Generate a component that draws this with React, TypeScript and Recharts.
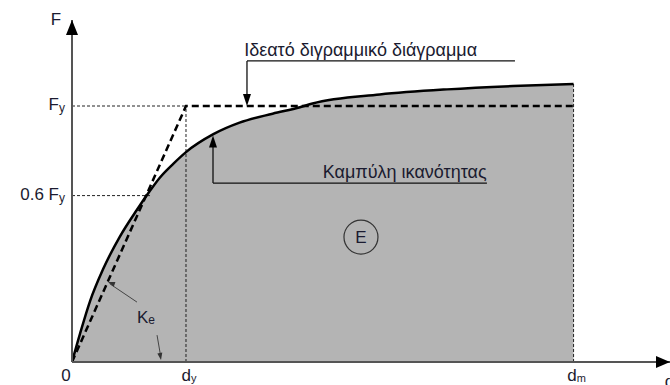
import { ComposedChart, Area, Line, XAxis, YAxis, ReferenceLine, ReferenceDot } from 'recharts'

// capacity curve (displacement in units of dy, force in units of Fy)
const capDisp = [0, 0.07, 0.16, 0.27, 0.42, 0.57, 0.67, 0.77, 0.89, 1.0, 1.24, 1.47, 1.76, 2.0, 2.11, 2.7, 3.29, 3.87, 4.4]
const capForce = [0, 0.11, 0.24, 0.36, 0.49, 0.595, 0.66, 0.72, 0.775, 0.82, 0.89, 0.935, 0.97, 0.995, 1.01, 1.045, 1.065, 1.078, 1.086]

// idealised bilinear diagram
const idealDisp = [0, 1, 4.4]
const idealForce = [0, 1, 1]

const yTicks = [0.65, 1]
const yTickLabels: [string, string][] = [['0.6 F', 'y'], ['F', 'y']]
const xTicks = [0, 1, 4.4]
const xTickLabels: [string, string][] = [['0', ''], ['d', 'y'], ['d', 'm']]

const X_MAX = 5.246
const Y_MAX = 1.336

const curveRows = capDisp.map((d, i) => ({ d, f: capForce[i] }))
const idealRows = idealDisp.map((d, i) => ({ d, f: idealForce[i] }))

const FONT = '"Liberation Sans", Arial, sans-serif'
const INK = '#1b1b30'
const AXIS = '#555'

function YTick({ x, y, payload }: any) {
  const i = yTicks.indexOf(payload.value)
  const [main, sub] = yTickLabels[i] ?? ['', '']
  return (
    <text x={x + 1} y={y + 4} textAnchor="end" fontFamily={FONT} fontSize={17} fill={INK}>
      {main}
      <tspan fontSize={12} dy={2}>{sub}</tspan>
    </text>
  )
}

function XTick({ x, y, payload }: any) {
  const i = xTicks.indexOf(payload.value)
  const [main, sub] = xTickLabels[i] ?? ['', '']
  const shift = i === 0 ? -6 : 3
  return (
    <text x={x + shift} y={y + 11} textAnchor="middle" fontFamily={FONT} fontSize={17} fill={INK}>
      {main}
      <tspan fontSize={11} dy={1}>{sub}</tspan>
    </text>
  )
}

// filled triangular arrowhead, tip at (cx, cy), pointing along `angle` degrees (0 = right)
const arrowHead = (angle: number, len: number, half: number, fill: string) => (props: any) => {
  const { cx, cy } = props
  if (cx == null || cy == null) return <g />
  return (
    <polygon
      points={`0,0 ${-len},${-half} ${-len},${half}`}
      transform={`translate(${cx},${cy}) rotate(${angle})`}
      fill={fill}
    />
  )
}

const textShape = (text: string, size: number, anchor: 'start' | 'middle' | 'end' = 'start') => (props: any) => {
  const { cx, cy } = props
  if (cx == null || cy == null) return <g />
  return (
    <text x={cx} y={cy} textAnchor={anchor} fontFamily={FONT} fontSize={size} fill={INK}>
      {text}
    </text>
  )
}

const keShape = (props: any) => {
  const { cx, cy } = props
  if (cx == null || cy == null) return <g />
  return (
    <text x={cx} y={cy} fontFamily={FONT} fontSize={17} fill={INK}>
      K<tspan fontSize={12} dy={1}>e</tspan>
    </text>
  )
}

const regionShape = (props: any) => {
  const { cx, cy } = props
  if (cx == null || cy == null) return <g />
  return (
    <g>
      <circle cx={cx} cy={cy} r={17} fill="none" stroke="#333" strokeWidth={1.2} />
      <text x={cx} y={cy + 6} textAnchor="middle" fontFamily={FONT} fontSize={17} fill={INK}>E</text>
    </g>
  )
}

const guide = { stroke: '#222', strokeWidth: 1, strokeDasharray: '3 2' }
const leader = { stroke: '#111', strokeWidth: 1.3 }
const keLine = { stroke: '#444', strokeWidth: 1 }

export default function App() {
  return (
    <div style={{ position: 'absolute', left: 0, top: 0, background: '#fff' }}>
      <ComposedChart width={670} height={385} data={curveRows} margin={{ top: 20, right: 0, bottom: 0, left: 0 }}>
        <XAxis
          dataKey="d"
          type="number"
          domain={[0, X_MAX]}
          ticks={xTicks}
          tick={<XTick />}
          tickLine={false}
          axisLine={{ stroke: AXIS, strokeWidth: 2 }}
          height={23}
          allowDataOverflow
          interval={0}
        />
        <YAxis
          type="number"
          domain={[0, Y_MAX]}
          ticks={yTicks}
          tick={<YTick />}
          tickLine={false}
          axisLine={{ stroke: AXIS, strokeWidth: 2 }}
          width={72}
          allowDataOverflow
          interval={0}
        />

        <Area
          dataKey="f"
          type="monotone"
          fill="#b4b4b4"
          fillOpacity={1}
          stroke="none"
          baseValue={0}
          isAnimationActive={false}
        />

        {/* dotted guides */}
        <ReferenceLine segment={[{ x: 0, y: 1 }, { x: 1, y: 1 }]} {...guide} />
        <ReferenceLine segment={[{ x: 0, y: 0.65 }, { x: 0.69, y: 0.65 }]} {...guide} />
        <ReferenceLine segment={[{ x: 1, y: 0 }, { x: 1, y: 1 }]} {...guide} />
        <ReferenceLine segment={[{ x: 4.4, y: 0 }, { x: 4.4, y: 1.086 }]} {...guide} />

        <Line
          data={curveRows}
          dataKey="f"
          type="monotone"
          stroke="#000"
          strokeWidth={2.5}
          dot={false}
          isAnimationActive={false}
        />
        <Line
          data={idealRows}
          dataKey="f"
          type="linear"
          stroke="#000"
          strokeWidth={2.5}
          strokeDasharray="7 4"
          dot={false}
          isAnimationActive={false}
        />

        {/* leader to the bilinear diagram */}
        <ReferenceLine segment={[{ x: 1.535, y: 1.176 }, { x: 3.886, y: 1.176 }]} {...leader} />
        <ReferenceLine segment={[{ x: 1.535, y: 1.176 }, { x: 1.535, y: 1.04 }]} {...leader} />
        <ReferenceDot x={1.535} y={1.0} r={0} shape={arrowHead(90, 12, 4, '#000')} />
        <ReferenceDot x={1.51} y={1.195} r={0} shape={textShape('Ιδεατό διγραμμικό διάγραμμα', 18)} />

        {/* leader to the capacity curve */}
        <ReferenceLine segment={[{ x: 1.237, y: 0.699 }, { x: 3.64, y: 0.699 }]} {...leader} />
        <ReferenceLine segment={[{ x: 1.237, y: 0.699 }, { x: 1.237, y: 0.84 }]} {...leader} />
        <ReferenceDot x={1.237} y={0.885} r={0} shape={arrowHead(-90, 12, 4, '#000')} />
        <ReferenceDot x={2.2} y={0.72} r={0} shape={textShape('Καμπύλη ικανότητας', 18)} />

        {/* initial stiffness Ke */}
        <ReferenceLine segment={[{ x: 0.57, y: 0.234 }, { x: 0.33, y: 0.306 }]} {...keLine} />
        <ReferenceDot x={0.316} y={0.3125} r={0} shape={arrowHead(-160, 7, 2.5, '#333')} />
        <ReferenceLine segment={[{ x: 0.746, y: 0.105 }, { x: 0.775, y: 0.03 }]} {...keLine} />
        <ReferenceDot x={0.781} y={0.008} r={0} shape={arrowHead(80, 7, 2.5, '#333')} />
        <ReferenceDot x={0.57} y={0.152} r={0} shape={keShape} />

        <ReferenceDot x={2.535} y={0.488} r={0} shape={regionShape} />

        {/* axis arrows and names */}
        <ReferenceDot x={0} y={Y_MAX} r={0} shape={arrowHead(-90, 15, 6, '#000')} />
        <ReferenceDot x={X_MAX} y={0} r={0} shape={arrowHead(0, 14, 6, '#000')} />
        <ReferenceDot x={-0.14} y={1.317} r={0} ifOverflow="visible" shape={textShape('F', 17, 'middle')} />
        <ReferenceDot x={5.2} y={-0.098} r={0} ifOverflow="visible" shape={textShape('d', 17)} />
      </ComposedChart>
    </div>
  )
}
